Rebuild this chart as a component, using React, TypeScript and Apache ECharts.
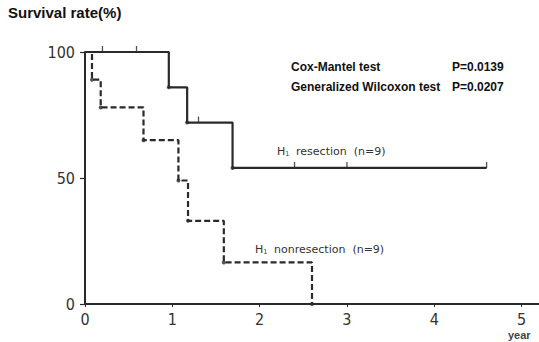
import React, { useEffect, useRef } from "react";
import * as echarts from "echarts";

const xTicks = [0, 1, 2, 3, 4, 5];
const yTicks = [0, 50, 100];

// Kaplan–Meier step points [year, survival %]
const resection: [number, number][] = [
  [0, 100],
  [0.96, 86],
  [1.17, 72],
  [1.69, 54],
  [4.6, 54],
];
const resectionEvents: [number, number][] = [
  [0.96, 86],
  [1.17, 72],
  [1.69, 54],
];
const resectionCensored: [number, number][] = [
  [0.2, 100],
  [0.59, 100],
  [1.3, 72],
  [2.4, 54],
  [3.0, 54],
  [4.6, 54],
];
const nonresection: [number, number][] = [
  [0, 100],
  [0.08, 89],
  [0.18, 78],
  [0.67, 65],
  [1.07, 49],
  [1.18, 33],
  [1.59, 16.5],
  [2.6, 0],
];
const nonresectionEvents: [number, number][] = nonresection.slice(1);

const INK = "#2a2a2a";
const NARROW = "'Liberation Sans Narrow', 'DejaVu Sans Condensed', 'Liberation Sans', sans-serif";
const SANS = "'Liberation Sans', Arial, sans-serif";
const WIDE = "'DejaVu Sans', 'Liberation Sans', sans-serif";

export default function App() {
  const ref = useRef<HTMLDivElement>(null);
  useEffect(() => {
    if (!ref.current) return;
    const chart = echarts.init(ref.current, null, { renderer: "svg" });
    const groupLabel = (name: string) => ({
      text: `{h|H}{s|1}  {t|${name}}`,
      rich: {
        h: { font: `11px ${WIDE}`, fill: "#333" },
        s: { font: `6.5px ${WIDE}`, fill: "#333", padding: [5, 0, 0, 0] },
        t: { font: `11px ${WIDE}`, fill: "#333" },
      },
    });
    chart.setOption({
      animation: false,
      backgroundColor: "#ffffff",
      grid: { left: 85, right: -1, top: 52, bottom: 38, containLabel: false },
      xAxis: {
        type: "value",
        min: 0,
        max: 5.2,
        interval: 1,
        splitLine: { show: false },
        axisLine: { lineStyle: { color: INK, width: 2 } },
        axisTick: { show: true, length: 3, lineStyle: { color: INK, width: 1 } },
        axisLabel: {
          showMaxLabel: false,
          color: "#333",
          fontFamily: NARROW,
          fontSize: 16,
          margin: 7,
          formatter: (v: number) => (xTicks.includes(v) ? String(v) : ""),
        },
      },
      yAxis: {
        type: "value",
        min: 0,
        max: 100,
        interval: 50,
        splitLine: { show: false },
        axisLine: { show: true, lineStyle: { color: INK, width: 2 } },
        axisTick: { show: true, length: 5, lineStyle: { color: INK, width: 1.2 } },
        axisLabel: {
          color: "#333",
          fontFamily: NARROW,
          fontSize: 16,
          margin: 10,
          formatter: (v: number) => (yTicks.includes(v) ? String(v) : ""),
        },
      },
      series: [
        {
          type: "line",
          step: "end",
          data: resection,
          showSymbol: false,
          lineStyle: { color: INK, width: 2.2 },
        },
        {
          type: "line",
          step: "end",
          data: nonresection,
          showSymbol: false,
          lineStyle: { color: INK, width: 2.2, type: [6, 3] },
        },
        {
          type: "scatter",
          data: [...resectionEvents, ...nonresectionEvents],
          symbol: "circle",
          symbolSize: 4,
          itemStyle: { color: INK },
        },
        {
          type: "scatter",
          data: resectionCensored,
          symbol: "rect",
          symbolSize: [1.3, 6],
          symbolOffset: [0, -3],
          itemStyle: { color: INK },
        },
      ],
      graphic: [
        {
          type: "text",
          left: 8,
          top: 5,
          style: { text: "Survival rate(%)", font: `bold 15px ${SANS}`, fill: "#111" },
        },
        {
          type: "text",
          left: 291,
          top: 61,
          style: { text: "Cox-Mantel test", font: `bold 12px ${SANS}`, fill: "#111" },
        },
        {
          type: "text",
          left: 452,
          top: 61,
          style: { text: "P=0.0139", font: `bold 12px ${SANS}`, fill: "#111" },
        },
        {
          type: "text",
          left: 291,
          top: 81,
          style: { text: "Generalized Wilcoxon test", font: `bold 12px ${SANS}`, fill: "#111" },
        },
        {
          type: "text",
          left: 452,
          top: 81,
          style: { text: "P=0.0207", font: `bold 12px ${SANS}`, fill: "#111" },
        },
        {
          type: "text",
          left: 277,
          top: 145,
          style: groupLabel("resection  (n=9)"),
        },
        {
          type: "text",
          left: 255,
          top: 243,
          style: groupLabel("nonresection  (n=9)"),
        },
        {
          type: "text",
          left: 508,
          top: 329,
          style: { text: "year", font: `bold 11px ${SANS}`, fill: "#444" },
        },
      ],
    });
    return () => chart.dispose();
  }, []);
  return <div ref={ref} style={{ position: "fixed", left: 0, top: 0, width: 539, height: 342 }} />;
}
